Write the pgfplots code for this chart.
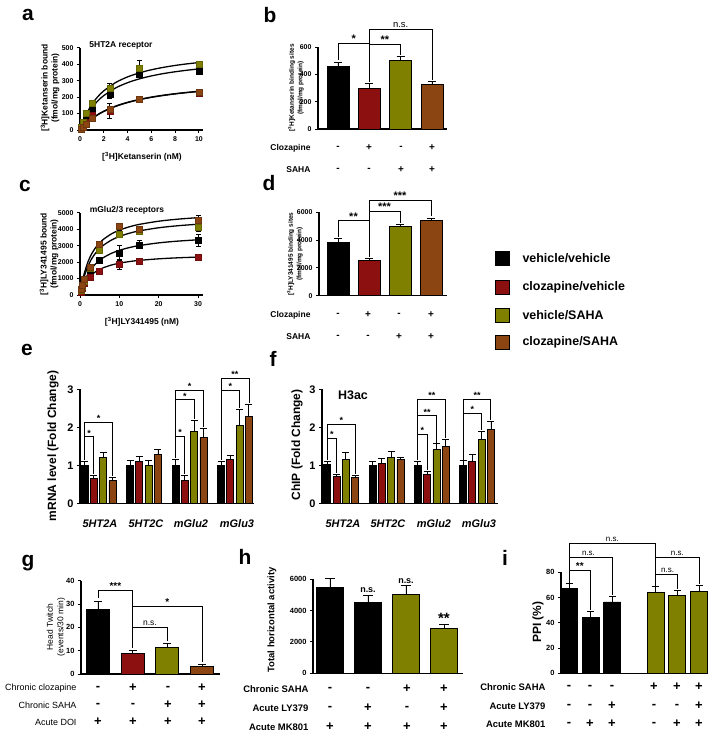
\documentclass[border=0pt]{standalone}
\usepackage{pgfplots}
\pgfplotsset{compat=1.18}
\usepackage{fontspec}
\setmainfont{Liberation Sans}
\definecolor{cred}{RGB}{140,16,16}
\definecolor{cgreen}{RGB}{128,128,0}
\definecolor{cbrown}{RGB}{139,69,19}
\newcommand{\fsz}[1]{\fontsize{#1}{#1}\selectfont}
\pgfplotsset{
  gp/.style={scale only axis, clip=false, anchor=south west,
    axis x line*=bottom, axis y line*=left,
    axis line style={-, line width=1.1pt},
    tick style={black, line width=1pt},
    major tick length=3bp, tick align=outside,
    /pgf/number format/assume math mode=true,
    /pgf/number format/1000 sep={},
    scaled ticks=false},
  gpbar/.style={gp, xtick=\empty},
  eb/.style={error bars/y dir=plus, error bars/y explicit,
     error bars/error bar style={line width=0.9pt, black},
     error bars/error mark options={rotate=90, line width=0.9pt, mark size=#1, black}},
  eb/.default=4bp,
  bb/.style={ybar, bar shift=0pt, draw=black, line width=0.9pt, fill=#1},
  mk/.style={only marks, mark=square*, mark size=3bp,
     mark options={fill=#1, draw=#1!80!black, line width=0.4pt},
     error bars/y dir=both, error bars/y explicit,
     error bars/error bar style={black, line width=0.9pt},
     error bars/error mark options={rotate=90, black, line width=0.9pt, mark size=2.5bp}},
  fit/.style={black, line width=1.3pt, smooth, mark=none},
}
\begin{document}
\begin{tikzpicture}
\fill[white] (0,0) rectangle (714bp,-735bp);
\path[use as bounding box] (0,0) rectangle (714bp,-735bp);

% ---------------- a ----------------
\begin{axis}[gp, at={(80bp,-130bp)}, width=123bp, height=82.3bp,
  xmin=0, xmax=10.34, ymin=0, ymax=500,
  xtick={0,2,...,10}, ytick={0,100,...,500},
  tick label style={font=\bfseries\fsz{7}}]
\addplot[fit] coordinates {(0,0)(0.25,51.0)(0.5,92.6)(1,156.3)(1.5,202.7)(2,238.1)(3,288.5)(4,322.6)(5,347.2)(6,365.9)(7,380.4)(8,392.2)(9,401.8)(10,409.8)};
\addplot[fit] coordinates {(0,0)(0.25,43.4)(0.5,79.3)(1,135.3)(1.5,176.9)(2,209.1)(3,255.6)(4,287.5)(5,310.8)(6,328.6)(7,342.6)(8,353.8)(9,363.2)(10,371.0)};
\addplot[fit] coordinates {(0,0)(0.25,20.8)(0.5,39.0)(1,69.6)(1.5,94.1)(2,114.3)(3,145.5)(4,168.4)(5,186.0)(6,200)(7,211.3)(8,220.7)(9,228.6)(10,235.3)};
\addplot[fit] coordinates {(0,0)(0.25,20.0)(0.5,37.9)(1,68.1)(1.5,92.5)(2,112.6)(3,143.6)(4,166.5)(5,184.2)(6,198.3)(7,209.7)(8,219.2)(9,227.2)(10,234.0)};
\addplot[mk=black] coordinates {(0.1,15)+-(0,5) (0.25,40)+-(0,8) (0.5,80)+-(0,10) (1,135)+-(0,15) (2.5,215)+-(0,25) (5,340)+-(0,20) (10,355)+-(0,15)};
\addplot[mk=cred] coordinates {(0.1,8)+-(0,4) (0.25,22)+-(0,5) (0.5,45)+-(0,8) (1,90)+-(0,10) (2.5,115)+-(0,45) (5,190)+-(0,12) (10,225)+-(0,12)};
\addplot[mk=cgreen] coordinates {(0.1,20)+-(0,5) (0.25,50)+-(0,8) (0.5,100)+-(0,10) (1,165)+-(0,12) (2.5,255)+-(0,25) (5,375)+-(0,45) (10,400)+-(0,15)};
\addplot[mk=cbrown] coordinates {(0.1,5)+-(0,4) (0.25,18)+-(0,5) (0.5,38)+-(0,6) (1,70)+-(0,8) (2.5,125)+-(0,20) (5,190)+-(0,10) (10,230)+-(0,10)};
\end{axis}

% ---------------- b ----------------
\begin{axis}[gpbar, at={(318bp,-129bp)}, width=129bp, height=82bp,
  xmin=0.362, xmax=4.48, ymin=0, ymax=600, ytick={0,200,400,600},
  bar width=22bp, tick label style={font=\bfseries\fsz{7}}]
\addplot[bb=black, eb] coordinates {(1,455) +- (0,35)};
\addplot[bb=cred, eb] coordinates {(2,295) +- (0,35)};
\addplot[bb=cgreen, eb] coordinates {(3,500) +- (0,30)};
\addplot[bb=cbrown, eb] coordinates {(4,325) +- (0,20)};
\draw[line width=0.9pt] (axis cs:1,505) -- (axis cs:1,629) -- (axis cs:2,629);
\draw[line width=0.9pt] (axis cs:2,345) -- (axis cs:2,732) -- (axis cs:4,732) -- (axis cs:4,360);
\draw[line width=0.9pt] (axis cs:2,622) -- (axis cs:3,622) -- (axis cs:3,545);
\node[font=\bfseries\fsz{11}, anchor=south, inner sep=0.5bp] at (axis cs:1.5,629) {*};
\node[font=\bfseries\fsz{11}, anchor=south, inner sep=0.5bp] at (axis cs:2.5,622) {**};
\node[font=\fsz{9.5}, anchor=south, inner sep=1.5bp] at (axis cs:3,732) {n.s.};
\end{axis}

% ---------------- c ----------------
\begin{axis}[gp, at={(80bp,-295bp)}, width=123bp, height=82.3bp,
  xmin=0, xmax=31.27, ymin=0, ymax=5000,
  xtick={0,10,20,30}, ytick={0,1000,...,5000},
  tick label style={font=\bfseries\fsz{7}}]
\addplot[fit] coordinates {(0,0)(0.5,702.7)(1,1238)(2,2000)(3,2516)(4,2889)(5,3171)(6,3391)(8,3714)(10,3939)(12.5,4140)(15,4286)(20,4483)(25,4610)(30,4699)};
\addplot[fit] coordinates {(0,0)(0.5,600)(1,1067)(2,1745)(3,2215)(4,2560)(5,2824)(6,3032)(8,3339)(10,3556)(12.5,3750)(15,3892)(20,4085)(25,4211)(30,4299)};
\addplot[fit] coordinates {(0,0)(0.5,422)(1,760)(2,1267)(3,1629)(4,1900)(5,2111)(6,2280)(8,2533)(10,2714)(12.5,2879)(15,3000)(20,3167)(25,3276)(30,3353)};
\addplot[fit] coordinates {(0,0)(0.5,345)(1,607)(2,981)(3,1234)(4,1417)(5,1555)(6,1663)(8,1821)(10,1932)(12.5,2030)(15,2102)(20,2198)(25,2261)(30,2304)};
\addplot[mk=black] coordinates {(0.25,250)+-(0,50) (0.5,450)+-(0,60) (1,800)+-(0,80) (2.5,1200)+-(0,100) (5,2100)+-(0,200) (10,2550)+-(0,450) (15,3050)+-(0,250) (30,3300)+-(0,350)};
\addplot[mk=cred] coordinates {(0.25,200)+-(0,40) (0.5,400)+-(0,50) (1,700)+-(0,60) (2.5,1100)+-(0,80) (5,1450)+-(0,100) (10,1850)+-(0,300) (15,2050)+-(0,100) (30,2300)+-(0,100)};
\addplot[mk=cgreen] coordinates {(0.25,300)+-(0,50) (0.5,550)+-(0,60) (1,850)+-(0,80) (2.5,1600)+-(0,120) (5,2750)+-(0,150) (10,3700)+-(0,200) (15,3850)+-(0,200) (30,4100)+-(0,250)};
\addplot[mk=cbrown] coordinates {(0.25,350)+-(0,60) (0.5,600)+-(0,80) (1,950)+-(0,100) (2.5,1700)+-(0,150) (5,3100)+-(0,150) (10,4150)+-(0,150) (15,4000)+-(0,150) (30,4550)+-(0,300)};
\end{axis}

% ---------------- d ----------------
\begin{axis}[gpbar, at={(319bp,-295.7bp)}, width=128bp, height=83.4bp,
  xmin=0.387, xmax=4.516, ymin=0, ymax=6000, ytick={0,2000,4000,6000},
  bar width=22bp, tick label style={font=\bfseries\fsz{7}}]
\addplot[bb=black, eb] coordinates {(1,3850) +- (0,250)};
\addplot[bb=cred, eb] coordinates {(2,2550) +- (0,100)};
\addplot[bb=cgreen, eb] coordinates {(3,4950) +- (0,150)};
\addplot[bb=cbrown, eb] coordinates {(4,5400) +- (0,150)};
\draw[line width=0.9pt] (axis cs:1,4250) -- (axis cs:1,5395) -- (axis cs:2,5395);
\draw[line width=0.9pt] (axis cs:2,2800) -- (axis cs:2,6885) -- (axis cs:4,6885) -- (axis cs:4,5700);
\draw[line width=0.9pt] (axis cs:2,6093) -- (axis cs:3,6093) -- (axis cs:3,5250);
\node[font=\bfseries\fsz{11}, anchor=south, inner sep=0.5bp] at (axis cs:1.5,5395) {**};
\node[font=\bfseries\fsz{11}, anchor=south, inner sep=0.5bp] at (axis cs:2.5,6093) {***};
\node[font=\bfseries\fsz{11}, anchor=south, inner sep=0.5bp] at (axis cs:3,6885) {***};
\end{axis}

% ---------------- e ----------------
\begin{axis}[gpbar, at={(80bp,-503.3bp)}, width=174bp, height=114bp,
  xmin=0.593, xmax=4.418, ymin=0, ymax=3, ytick={0,1,2,3},
  ybar=2.3bp, bar width=7bp, tick label style={font=\bfseries\fsz{11}}]
\addplot[draw=black, line width=0.8pt, fill=black, eb=3.5bp] coordinates {(1,1.0)+-(0,0.1) (2,1.0)+-(0,0.12) (3,1.0)+-(0,0.15) (4,1.0)+-(0,0.1)};
\addplot[draw=black, line width=0.8pt, fill=cred, eb=3.5bp] coordinates {(1,0.65)+-(0,0.08) (2,1.1)+-(0,0.14) (3,0.6)+-(0,0.12) (4,1.15)+-(0,0.12)};
\addplot[draw=black, line width=0.8pt, fill=cgreen, eb=3.5bp] coordinates {(1,1.2)+-(0,0.15) (2,1.0)+-(0,0.12) (3,1.9)+-(0,0.28) (4,2.06)+-(0,0.4)};
\addplot[draw=black, line width=0.8pt, fill=cbrown, eb=3.5bp] coordinates {(1,0.6)+-(0,0.08) (2,1.28)+-(0,0.14) (3,1.73)+-(0,0.24) (4,2.28)+-(0,0.32)};
\begin{scope}[line width=0.9pt]
\draw (axis cs:0.693,1.14) -- (axis cs:0.693,2.13) -- (axis cs:1.307,2.13) -- (axis cs:1.307,0.72);
\draw (axis cs:0.693,1.75) -- (axis cs:0.898,1.75) -- (axis cs:0.898,0.77);
\draw (axis cs:2.693,1.19) -- (axis cs:2.693,2.98) -- (axis cs:3.307,2.98) -- (axis cs:3.307,2.0);
\draw (axis cs:2.693,2.72) -- (axis cs:3.102,2.72) -- (axis cs:3.102,2.22);
\draw (axis cs:2.693,1.77) -- (axis cs:2.898,1.77) -- (axis cs:2.898,0.76);
\draw (axis cs:3.693,1.14) -- (axis cs:3.693,3.29) -- (axis cs:4.307,3.29) -- (axis cs:4.307,2.64);
\draw (axis cs:3.693,2.98) -- (axis cs:4.102,2.98) -- (axis cs:4.102,2.5);
\end{scope}
\begin{scope}[every node/.style={font=\bfseries\fsz{9}, anchor=south, inner sep=0.5bp}]
\node at (axis cs:0.795,1.75) {*};
\node at (axis cs:1.0,2.13) {*};
\node at (axis cs:2.795,1.77) {*};
\node at (axis cs:2.9,2.72) {*};
\node at (axis cs:3.0,2.98) {*};
\node at (axis cs:3.9,2.98) {*};
\node at (axis cs:4.0,3.29) {**};
\end{scope}
\end{axis}

% ---------------- f ----------------
\begin{axis}[gpbar, at={(322bp,-503.3bp)}, width=176bp, height=114bp,
  xmin=0.5746, xmax=4.464, ymin=0, ymax=3, ytick={0,1,2,3},
  ybar=2.3bp, bar width=7bp, tick label style={font=\bfseries\fsz{11}}]
\addplot[draw=black, line width=0.8pt, fill=black, eb=3.5bp] coordinates {(1,1.02)+-(0,0.08) (2,1.0)+-(0,0.1) (3,1.0)+-(0,0.1) (4,1.0)+-(0,0.12)};
\addplot[draw=black, line width=0.8pt, fill=cred, eb=3.5bp] coordinates {(1,0.7)+-(0,0.06) (2,1.05)+-(0,0.12) (3,0.75)+-(0,0.08) (4,1.1)+-(0,0.18)};
\addplot[draw=black, line width=0.8pt, fill=cgreen, eb=3.5bp] coordinates {(1,1.15)+-(0,0.2) (2,1.2)+-(0,0.16) (3,1.42)+-(0,0.15) (4,1.68)+-(0,0.22)};
\addplot[draw=black, line width=0.8pt, fill=cbrown, eb=3.5bp] coordinates {(1,0.68)+-(0,0.06) (2,1.15)+-(0,0.06) (3,1.5)+-(0,0.18) (4,1.95)+-(0,0.2)};
\begin{scope}[line width=0.9pt]
\draw (axis cs:0.692,1.13) -- (axis cs:0.692,2.08) -- (axis cs:1.308,2.08) -- (axis cs:1.308,0.78);
\draw (axis cs:0.692,1.71) -- (axis cs:0.897,1.71) -- (axis cs:0.897,0.8);
\draw (axis cs:2.692,1.13) -- (axis cs:2.692,2.74) -- (axis cs:3.308,2.74) -- (axis cs:3.308,1.72);
\draw (axis cs:2.692,2.3) -- (axis cs:3.103,2.3) -- (axis cs:3.103,1.6);
\draw (axis cs:2.692,1.82) -- (axis cs:2.897,1.82) -- (axis cs:2.897,0.87);
\draw (axis cs:3.692,1.15) -- (axis cs:3.692,2.74) -- (axis cs:4.308,2.74) -- (axis cs:4.308,2.18);
\draw (axis cs:3.692,2.37) -- (axis cs:4.103,2.37) -- (axis cs:4.103,1.93);
\end{scope}
\begin{scope}[every node/.style={font=\bfseries\fsz{9}, anchor=south, inner sep=0.5bp}]
\node at (axis cs:0.795,1.71) {*};
\node at (axis cs:1.0,2.08) {*};
\node at (axis cs:2.795,1.82) {*};
\node at (axis cs:2.9,2.3) {**};
\node at (axis cs:3.0,2.74) {**};
\node at (axis cs:3.9,2.37) {*};
\node at (axis cs:4.0,2.74) {**};
\end{scope}
\end{axis}

% ---------------- g ----------------
\begin{axis}[gpbar, at={(81bp,-674bp)}, width=139bp, height=93.3bp,
  xmin=0.51, xmax=4.519, ymin=0, ymax=40, ytick={0,10,...,40},
  bar width=23bp, tick label style={font=\bfseries\fsz{7.5}}]
\addplot[bb=black, eb] coordinates {(1,27.5) +- (0,3.7)};
\addplot[bb=cred, eb] coordinates {(2,8.7) +- (0,1.3)};
\addplot[bb=cgreen, eb] coordinates {(3,11.6) +- (0,1.4)};
\addplot[bb=cbrown, eb] coordinates {(4,3.4) +- (0,0.6)};
\begin{scope}[line width=0.9pt]
\draw (axis cs:1,32.5) -- (axis cs:1,36) -- (axis cs:2,36) -- (axis cs:2,11);
\draw (axis cs:2,28.9) -- (axis cs:4,28.9) -- (axis cs:4,5);
\draw (axis cs:2,19.9) -- (axis cs:3,19.9) -- (axis cs:3,14);
\end{scope}
\node[font=\bfseries\fsz{10}, anchor=south, inner sep=0.5bp] at (axis cs:1.5,36) {***};
\node[font=\bfseries\fsz{10}, anchor=south, inner sep=0.5bp] at (axis cs:3,28.9) {*};
\node[font=\fsz{8.5}, anchor=south, inner sep=1.5bp] at (axis cs:2.5,19.9) {n.s.};
\end{axis}

% ---------------- h ----------------
\begin{axis}[gpbar, at={(313bp,-673.3bp)}, width=150bp, height=94bp,
  xmin=0.553, xmax=4.5, ymin=0, ymax=6000, ytick={0,2000,4000,6000},
  bar width=27bp, tick label style={font=\bfseries\fsz{7.5}}]
\addplot[bb=black, eb=5bp] coordinates {(1,5450) +- (0,600) (2,4500) +- (0,500)};
\addplot[bb=cgreen, eb=5bp] coordinates {(3,5050) +- (0,550) (4,2850) +- (0,300)};
\node[font=\bfseries\fsz{9}, anchor=south, inner sep=2bp] at (axis cs:2,5000) {n.s.};
\node[font=\bfseries\fsz{9}, anchor=south, inner sep=2bp] at (axis cs:3,5600) {n.s.};
\node[font=\bfseries\fsz{15}, anchor=south, inner sep=1bp] at (axis cs:4,3100) {**};
\end{axis}

% ---------------- i ----------------
\begin{axis}[gpbar, at={(561bp,-673.3bp)}, width=147bp, height=101bp,
  xmin=0.631, xmax=7.415, ymin=0, ymax=80, ytick={0,20,...,80},
  bar width=17bp, tick label style={font=\bfseries\fsz{7.5}}]
\addplot[bb=black, eb=3.5bp] coordinates {(1,67.5) +- (0,3.5) (2,44) +- (0,5) (3,56.5) +- (0,4.5)};
\addplot[bb=cgreen, eb=3.5bp] coordinates {(5,64) +- (0,4.5) (6,61.5) +- (0,4.5) (7,65) +- (0,4.5)};
\begin{scope}[line width=0.9pt]
\draw (axis cs:1,71.5) -- (axis cs:1,103) -- (axis cs:5,103) -- (axis cs:5,69.5);
\draw (axis cs:1,81.8) -- (axis cs:2,81.8) -- (axis cs:2,50);
\draw (axis cs:1,91.9) -- (axis cs:3,91.9) -- (axis cs:3,62);
\draw (axis cs:5,78.4) -- (axis cs:6,78.4) -- (axis cs:6,67);
\draw (axis cs:5,91.9) -- (axis cs:7,91.9) -- (axis cs:7,70.5);
\end{scope}
\node[font=\bfseries\fsz{10}, anchor=south, inner sep=0.5bp] at (axis cs:1.5,81.8) {**};
\begin{scope}[every node/.style={font=\fsz{8}, anchor=south, inner sep=1.5bp}]
\node at (axis cs:1.9,91.9) {n.s.};
\node at (axis cs:3,103) {n.s.};
\node at (axis cs:5.55,78.4) {n.s.};
\node at (axis cs:6,91.9) {n.s.};
\end{scope}
\end{axis}

% ---------------- texts ----------------
\begin{scope}[x=1bp, y=-1bp]
\begin{scope}[every node/.style={font=\bfseries\fsz{21}}]
\node at (28,15) {a};
\node at (270,15) {b};
\node at (25,186) {c};
\node at (269,183) {d};
\node at (27,350) {e};
\node at (273,359) {f};
\node at (28,563) {g};
\node at (245,557) {h};
\node at (505,558) {i};
\end{scope}
% a
\node[font=\bfseries\fsz{8.5}] at (121,45) {5HT2A receptor};
\node[font=\bfseries\fsz{8.5}, rotate=90, align=center] at (50,88) {[\textsuperscript{3}H]Ketanserin bound\\[1.5bp](fmol/mg protein)};
\node[font=\bfseries\fsz{8.5}] at (142,157) {[\textsuperscript{3}H]Ketanserin (nM)};
% b
\node[font=\bfseries\fsz{6.5}, rotate=90, align=center] at (296,88) {[\textsuperscript{3}H]Ketanserin binding sites\\[2bp](fmol/mg protein)};
\node[font=\bfseries\fsz{8.5}, anchor=east] at (314,148) {Clozapine};
\node[font=\bfseries\fsz{8.5}, anchor=east] at (314,170) {SAHA};
\foreach \x/\s in {338/-,369/+,401/-,432/+} \node[font=\bfseries\fsz{10}] at (\x,148) {\s};
\foreach \x/\s in {338/-,369/-,401/+,432/+} \node[font=\bfseries\fsz{10}] at (\x,170) {\s};
% c
\node[font=\bfseries\fsz{8.5}] at (127,210) {mGlu2/3 receptors};
\node[font=\bfseries\fsz{8.5}, rotate=90, align=center] at (49,254) {[\textsuperscript{3}H]LY341495 bound\\[1.5bp](fmol/mg protein)};
\node[font=\bfseries\fsz{8.5}] at (142,322) {[\textsuperscript{3}H]LY341495 (nM)};
% d
\node[font=\bfseries\fsz{6.5}, rotate=90, align=center] at (295,254) {[\textsuperscript{3}H]LY341495 binding sites\\[2bp](fmol/mg protein)};
\node[font=\bfseries\fsz{8.5}, anchor=east] at (314,315) {Clozapine};
\node[font=\bfseries\fsz{8.5}, anchor=east] at (314,337) {SAHA};
\foreach \x/\s in {338/-,368/+,399/-,431/+} \node[font=\bfseries\fsz{10}] at (\x,315) {\s};
\foreach \x/\s in {338/-,368/-,399/+,431/+} \node[font=\bfseries\fsz{10}] at (\x,337) {\s};
% legend
\foreach \y/\c/\t in {258/black/vehicle\slash vehicle, 287/cred/clozapine\slash vehicle, 315/cgreen/vehicle\slash SAHA, 342/cbrown/clozapine\slash SAHA} {
  \draw[fill=\c, line width=0.7pt] (495,\y-7) rectangle (509,\y+7);
  \node[font=\bfseries\fsz{12.5}, anchor=west] at (519,\y) {\t};
}
% e
\node[font=\bfseries\fsz{12}, rotate=90] at (53,446) {mRNA level (Fold Change)};
\foreach \x/\t in {100/5HT2A,146/5HT2C,191/mGlu2,237/mGlu3} \node[font=\bfseries\itshape\fsz{11}] at (\x,524) {\t};
% f
\node[font=\bfseries\fsz{12}, rotate=90] at (297,445) {ChIP (Fold Change)};
\node[font=\bfseries\fsz{12.5}] at (353,395) {H3ac};
\foreach \x/\t in {343/5HT2A,388/5HT2C,434/mGlu2,479/mGlu3} \node[font=\bfseries\itshape\fsz{11}] at (\x,524) {\t};
% g
\node[font=\fsz{8.5}, rotate=90, align=center] at (56,627) {Head Twitch\\[2bp](events/30 min)};
\node[font=\fsz{9}, anchor=east] at (80,688) {Chronic clozapine};
\node[font=\fsz{9}, anchor=east] at (80,705) {Chronic SAHA};
\node[font=\fsz{9}, anchor=east] at (80,722) {Acute DOI};
\foreach \x/\s in {98/-,133/+,168/-,202/+} \node[font=\bfseries\fsz{13}] at (\x,688) {\s};
\foreach \x/\s in {98/-,133/-,168/+,202/+} \node[font=\bfseries\fsz{13}] at (\x,705) {\s};
\foreach \x/\s in {98/+,133/+,168/+,202/+} \node[font=\bfseries\fsz{13}] at (\x,722) {\s};
% h
\node[font=\bfseries\fsz{9.5}, rotate=90] at (272,620) {Total horizontal activity};
\node[font=\bfseries\fsz{9.5}, anchor=east] at (312,689) {Chronic SAHA};
\node[font=\bfseries\fsz{9.5}, anchor=east] at (312,708) {Acute LY379};
\node[font=\bfseries\fsz{9.5}, anchor=east] at (312,727) {Acute MK801};
\foreach \x/\s in {330/-,368/-,407/+,444/+} \node[font=\bfseries\fsz{13}] at (\x,689) {\s};
\foreach \x/\s in {330/-,368/+,407/-,444/+} \node[font=\bfseries\fsz{13}] at (\x,708) {\s};
\foreach \x/\s in {330/+,368/+,407/+,444/+} \node[font=\bfseries\fsz{13}] at (\x,727) {\s};
% i
\node[font=\bfseries\fsz{12}, rotate=90] at (538,622) {PPI (\%)};
\node[font=\bfseries\fsz{9.5}, anchor=east] at (549,687) {Chronic SAHA};
\node[font=\bfseries\fsz{9.5}, anchor=east] at (549,706) {Acute LY379};
\node[font=\bfseries\fsz{9.5}, anchor=east] at (549,724) {Acute MK801};
\foreach \x/\s in {569/-,590/-,612/-,654/+,677/+,699/+} \node[font=\bfseries\fsz{13}] at (\x,687) {\s};
\foreach \x/\s in {569/-,590/-,612/+,654/-,677/-,699/+} \node[font=\bfseries\fsz{13}] at (\x,706) {\s};
\foreach \x/\s in {569/-,590/+,612/+,654/-,677/+,699/+} \node[font=\bfseries\fsz{13}] at (\x,724) {\s};
\end{scope}
\end{tikzpicture}
\end{document}
